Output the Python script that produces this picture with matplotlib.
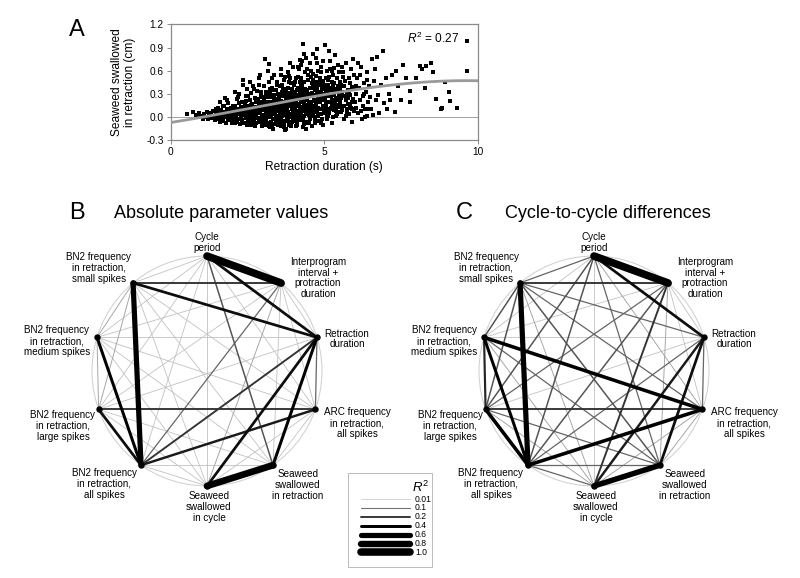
import numpy as np
import matplotlib
matplotlib.use("Agg")
import matplotlib.pyplot as plt
from matplotlib.patches import Circle, Rectangle

plt.rcParams['font.family'] = ['Liberation Sans', 'DejaVu Sans']
plt.rcParams['mathtext.fontset'] = 'custom'
plt.rcParams['mathtext.rm'] = 'Liberation Sans'
plt.rcParams['mathtext.it'] = 'Liberation Sans:italic'

# ---- panel A: retraction duration (s) vs seaweed swallowed in retraction (cm)
scatter_pts = """
0.52 0.04, 0.74 0.06, 0.81 0.03, 0.88 0.01, 0.93 0.05, 1.02 0.02, 1.06 -0.02, 1.1 0.04, 1.14 0.0, 1.18 0.06,
1.22 -0.03, 1.25 0.02, 1.3 0.05, 1.33 -0.01, 1.37 0.08, 1.4 0.01, 1.43 -0.04, 1.46 0.03, 1.48 0.1,
1.51 0.06, 1.53 -0.02, 1.55 0.12, 1.57 0.01, 1.59 -0.06, 1.61 0.04, 1.63 0.09, 1.65 -0.03, 1.67 0.02, 1.69 0.14,
1.71 -0.05, 1.72 0.07, 1.74 0.0, 1.76 0.25, 1.78 0.03, 1.8 -0.07, 1.82 0.1, 1.84 0.05, 1.86 -0.02, 1.88 0.18,
1.9 0.01, 1.92 0.08, 1.94 -0.04, 1.96 0.12, 1.98 0.03, 1.99 -0.08, 1.62 0.2, 1.75 0.15, 1.85 0.22, 1.58 0.09,
2.01 0.05, 2.03 -0.03, 2.05 0.1, 2.06 0.02, 2.08 -0.08, 2.1 0.15, 2.12 0.0, 2.13 0.07, 2.15 -0.05, 2.17 0.24,
2.18 0.04, 2.2 0.11, 2.21 -0.02, 2.23 0.3, 2.25 0.06, 2.26 -0.09, 2.28 0.13, 2.3 0.01, 2.31 0.19, 2.33 -0.04,
2.35 0.08, 2.36 0.42, 2.38 0.03, 2.4 -0.07, 2.41 0.16, 2.43 0.05, 2.45 0.27, 2.46 -0.01, 2.48 0.1, 2.49 0.36,
2.11 0.33, 2.22 0.18, 2.34 0.48, 2.44 0.21, 2.04 0.14, 2.16 -0.06, 2.27 0.09, 2.39 0.12, 2.47 -0.1, 2.19 0.26,
2.51 0.04, 2.52 -0.06, 2.54 0.14, 2.55 0.01, 2.57 0.22, 2.58 -0.02, 2.6 0.09, 2.61 0.31, 2.63 -0.1, 2.64 0.06,
2.66 0.17, 2.67 0.0, 2.69 0.4, 2.7 0.11, 2.72 -0.04, 2.73 0.25, 2.75 0.03, 2.76 0.13, 2.78 -0.08, 2.79 0.2,
2.81 0.07, 2.82 0.34, 2.84 -0.01, 2.85 0.1, 2.87 0.5, 2.88 0.15, 2.9 -0.06, 2.91 0.05, 2.93 0.28, 2.94 0.12,
2.96 -0.11, 2.97 0.19, 2.99 0.02, 2.53 0.27, 2.59 0.45, 2.65 -0.07, 2.71 0.36, 2.77 0.08, 2.83 0.23, 2.89 0.42,
2.95 0.32, 2.62 0.16, 2.68 0.03, 2.74 -0.12, 2.8 0.12, 2.86 -0.03, 2.92 0.55, 2.98 0.09, 2.56 0.07, 2.98 0.26,
3.01 0.1, 3.02 -0.05, 3.04 0.22, 3.05 0.03, 3.06 0.75, 3.08 0.14, 3.09 -0.1, 3.11 0.07, 3.12 0.33, 3.14 0.0,
3.15 0.18, 3.17 -0.07, 3.18 0.26, 3.2 0.05, 3.21 0.45, 3.23 0.12, 3.24 -0.13, 3.26 0.2, 3.27 0.02, 3.29 0.38,
3.3 0.09, 3.32 -0.03, 3.33 0.16, 3.35 0.55, 3.36 0.06, 3.38 0.29, 3.39 -0.09, 3.41 0.13, 3.42 0.01, 3.44 0.24,
3.45 0.42, 3.47 0.08, 3.48 -0.05, 3.49 0.17, 3.03 0.4, 3.07 -0.02, 3.1 0.28, 3.13 0.11, 3.16 0.6, 3.19 -0.11,
3.22 0.31, 3.25 0.08, 3.28 0.15, 3.31 0.5, 3.34 -0.15, 3.37 0.21, 3.4 0.04, 3.43 0.35, 3.46 0.23, 3.07 0.19,
3.19 0.13, 3.31 0.26, 3.43 -0.07, 3.28 -0.06, 3.15 0.04, 3.37 0.1, 3.24 0.36, 3.12 -0.08, 3.48 0.3, 3.2 0.69,
3.51 0.12, 3.52 -0.04, 3.53 0.25, 3.55 0.05, 3.56 0.4, 3.58 0.16, 3.59 -0.12, 3.61 0.09, 3.62 0.32, 3.63 0.01,
3.65 0.2, 3.66 -0.08, 3.68 0.48, 3.69 0.13, 3.71 0.03, 3.72 0.27, 3.74 -0.15, 3.75 0.1, 3.77 0.36, 3.78 0.18,
3.8 -0.02, 3.81 0.58, 3.83 0.07, 3.84 0.22, 3.86 -0.1, 3.87 0.14, 3.89 0.31, 3.9 0.04, 3.92 0.44, 3.93 0.19,
3.95 -0.06, 3.96 0.11, 3.98 0.28, 3.99 0.65, 3.54 0.3, 3.57 -0.07, 3.6 0.21, 3.64 0.42, 3.67 0.06, 3.7 0.15,
3.73 -0.17, 3.76 0.24, 3.79 0.09, 3.82 0.38, 3.85 0.02, 3.88 0.17, 3.91 -0.11, 3.94 0.33, 3.97 0.07, 3.53 0.0,
3.6 -0.03, 3.66 0.28, 3.73 0.52, 3.79 0.12, 3.86 0.25, 3.92 0.0, 3.98 0.2, 3.58 0.55, 3.7 0.34, 3.82 -0.05,
3.9 0.5, 3.63 0.14, 3.76 0.04, 3.88 0.7, 3.95 0.15, 3.56 0.08, 3.69 -0.1, 3.84 0.45, 3.97 -0.02,
4.01 0.14, 4.02 0.02, 4.04 0.3, 4.05 -0.05, 4.07 0.21, 4.08 0.5, 4.1 0.08, 4.11 0.35, 4.13 -0.1, 4.14 0.17,
4.16 0.04, 4.17 0.62, 4.19 0.26, 4.2 0.11, 4.22 -0.02, 4.23 0.4, 4.25 0.19, 4.26 0.06, 4.28 0.73, 4.29 0.29,
4.31 -0.13, 4.32 0.13, 4.34 0.45, 4.35 0.01, 4.37 0.23, 4.31 0.95, 4.4 0.09, 4.41 0.33, 4.43 -0.06, 4.44 0.16,
4.46 0.55, 4.47 0.27, 4.49 0.03, 4.03 0.42, 4.06 0.1, 4.09 -0.12, 4.12 0.24, 4.15 0.38, 4.18 -0.04, 4.21 0.31,
4.24 0.68, 4.27 0.12, 4.3 0.2, 4.33 -0.09, 4.36 0.36, 4.39 0.58, 4.42 0.07, 4.45 0.22, 4.48 0.48, 4.05 0.25,
4.11 -0.01, 4.17 0.15, 4.23 0.05, 4.29 0.41, 4.35 0.28, 4.41 0.12, 4.47 -0.08, 4.08 0.18, 4.2 0.46, 4.32 0.25,
4.44 0.35, 4.14 0.52, 4.26 0.34, 4.38 0.15, 4.02 0.07, 4.22 0.74, 4.4 -0.15, 4.13 0.29, 4.36 0.08,
4.51 0.2, 4.52 0.05, 4.54 0.38, 4.55 -0.03, 4.57 0.27, 4.58 0.6, 4.6 0.13, 4.61 0.44, 4.63 0.02, 4.64 0.82,
4.66 0.22, 4.67 0.09, 4.69 0.35, 4.7 -0.08, 4.72 0.53, 4.73 0.17, 4.75 0.3, 4.76 0.06, 4.78 0.7, 4.79 0.24,
4.81 0.12, 4.82 0.41, 4.84 -0.05, 5.04 0.93, 4.87 0.19, 4.88 0.33, 4.9 0.04, 4.91 0.58, 4.93 0.26, 4.94 0.1,
4.96 0.47, 4.97 -0.1, 4.99 0.36, 4.53 0.15, 4.59 0.31, 4.65 0.48, 4.71 0.0, 4.77 0.4, 4.83 0.21, 4.89 0.65,
4.95 0.15, 4.56 0.08, 4.62 0.28, 4.68 0.14, 4.74 0.45, 4.8 0.03, 4.86 0.29, 4.92 0.38, 4.98 0.22, 4.57 0.52,
4.69 0.21, 4.81 0.6, 4.93 -0.03, 4.63 0.37, 4.75 0.11, 4.87 0.5, 4.99 0.08, 4.6 -0.12, 4.72 0.76, 4.84 0.27,
5.01 0.25, 5.03 0.08, 5.04 0.42, 5.06 0.15, 5.08 0.6, 5.09 -0.02, 5.11 0.33, 5.13 0.2, 5.14 0.48, 5.16 0.05,
5.18 0.28, 5.19 0.72, 5.21 0.12, 5.23 0.38, 5.24 -0.08, 5.26 0.22, 5.28 0.55, 5.29 0.31, 5.31 0.09, 5.33 0.44,
5.34 0.18, 5.36 0.8, 5.38 0.02, 5.39 0.35, 5.41 0.25, 5.43 0.5, 5.44 0.13, 5.46 0.4, 5.48 0.07, 5.49 0.29,
5.02 0.36, 5.07 0.31, 5.12 0.02, 5.17 0.52, 5.22 0.27, 5.27 0.14, 5.32 0.64, 5.37 0.23, 5.42 0.04, 5.47 0.58,
5.05 0.19, 5.15 0.38, 5.25 0.46, 5.35 0.11, 5.45 0.32, 5.1 0.1, 5.2 0.62, 5.3 0.4, 5.4 0.16, 5.5 0.45,
5.52 0.2, 5.54 0.41, 5.56 0.06, 5.58 0.33, 5.6 0.58, 5.62 0.14, 5.64 0.27, 5.66 -0.03, 5.68 0.47, 5.7 0.22,
5.72 0.7, 5.74 0.1, 5.76 0.35, 5.78 0.17, 5.8 0.5, 5.82 0.04, 5.84 0.29, 5.86 0.62, 5.88 0.12, 5.9 0.39,
5.92 -0.06, 5.94 0.24, 5.96 0.54, 5.98 0.08, 5.53 0.3, 5.59 0.09, 5.65 0.4, 5.71 0.01, 5.77 0.25, 5.83 0.44,
5.89 0.2, 5.95 0.75, 5.61 0.52, 5.73 0.3, 5.85 0.16, 5.97 0.36,
6.02 0.3, 6.05 0.12, 6.08 0.5, 6.11 0.05, 6.14 0.38, 6.17 0.22, 6.2 0.65, 6.23 -0.02, 6.26 0.27, 6.29 0.44,
6.32 0.1, 6.35 0.33, 6.38 0.58, 6.41 0.02, 6.44 0.2, 6.47 0.4, 6.1 0.7, 6.25 0.15, 6.4 0.48, 6.15 0.55,
6.33 0.0, 6.48 0.26, 6.52 0.1, 6.56 0.75, 6.6 0.03, 6.64 0.62, 6.68 0.22, 6.73 0.78, 6.76 0.28, 6.8 0.05,
6.85 0.42, 6.9 0.85, 6.95 0.18, 7.0 0.5, 7.05 0.1, 7.1 0.3, 7.2 0.55, 7.3 0.07, 7.4 0.4, 6.62 0.47,
7.15 0.22, 7.35 0.6, 7.51 0.22, 7.57 0.68, 7.65 0.5, 7.78 0.2, 7.8 0.34, 8.0 0.5, 8.11 0.66, 8.2 0.62,
8.29 0.37, 8.33 0.66, 8.49 0.7, 8.55 0.58, 8.65 0.23, 8.8 0.1, 8.85 0.12, 8.92 0.46, 9.09 0.21, 9.05 0.33,
9.34 0.12, 9.66 0.98, 9.66 0.59,
3.02 0.15, 3.05 0.25, 3.09 0.05, 3.13 0.2, 3.17 0.1, 3.21 0.0, 3.25 0.27, 3.29 0.12, 3.33 0.05, 3.36 0.35,
3.4 0.19, 3.44 0.08, 3.47 -0.02, 3.5 0.22, 3.54 0.15, 3.57 0.02, 3.61 0.27, 3.64 0.07, 3.68 0.2, 3.71 -0.05,
3.74 0.31, 3.78 0.06, 3.81 0.16, 3.85 0.3, 3.88 0.0, 3.92 0.24, 3.95 0.36, 3.99 0.1, 4.02 0.22, 4.06 0.33,
4.09 0.02, 4.13 0.15, 4.16 0.27, 4.2 0.0, 4.23 0.22, 4.27 0.38, 4.3 0.08, 4.34 0.18, 4.37 0.32, 4.41 0.04,
4.44 0.26, 4.48 0.14, 4.51 0.3, 4.55 0.1, 4.58 0.2, 4.62 0.4, 4.65 0.05, 4.69 0.28, 4.72 0.14, 4.76 0.35,
4.79 0.02, 4.83 0.33, 4.86 0.1, 4.9 0.24, 4.93 0.42, 4.97 0.13, 5.0 0.3, 5.04 0.05, 5.07 0.2, 5.11 0.42,
5.14 0.27, 5.18 0.1, 5.22 0.35, 5.25 0.18, 5.29 0.0, 5.33 0.28, 5.36 0.36, 5.4 0.08, 5.44 0.22, 5.48 0.15,
5.52 0.38, 5.55 0.25, 2.85 0.05, 2.9 0.18, 2.95 -0.02, 2.82 0.12, 2.78 0.02, 3.0 -0.08, 3.1 -0.04, 3.3 -0.1,
3.5 -0.1, 3.7 -0.13, 3.9 -0.08, 4.1 -0.07, 4.3 -0.04, 4.5 -0.06, 4.7 -0.03, 4.9 -0.07, 5.1 0.0, 3.15 0.3,
3.45 0.45, 3.65 0.36, 3.85 0.53, 4.05 0.46, 4.25 0.5, 4.45 0.62, 4.65 0.56, 4.85 0.46, 5.05 0.5, 5.25 0.6,
5.45 0.68, 4.15 0.65, 4.55 0.7, 4.95 0.72, 4.35 0.82, 4.75 0.88, 5.15 0.85, 3.6 0.62, 4.4 0.76, 5.58 0.65,
5.65 0.15, 5.75 0.05, 5.8 0.3, 5.9 0.1, 6.0 0.2, 6.05 0.4, 6.2 0.08, 6.3 0.3, 6.45 0.1
"""
pts = np.array([p.split() for p in scatter_pts.replace("\n", " ").split(",") if p.strip()], float)
retraction_dur = pts[:, 0]
swallowed_retr = pts[:, 1]
trend_coef = [-0.000533, 0.0044, 0.0633, -0.07]   # cubic trendline
r2_a = 0.27

# ---- panels B and C: R^2 between cycle parameters
node_labels = [
    "Cycle\nperiod",
    "Interprogram\ninterval +\nprotraction\nduration",
    "Retraction\nduration",
    "ARC frequency\nin retraction,\nall spikes",
    "Seaweed\nswallowed\nin retraction",
    "Seaweed\nswallowed\nin cycle",
    "BN2 frequency\nin retraction,\nall spikes",
    "BN2 frequency\nin retraction,\nlarge spikes",
    "BN2 frequency\nin retraction,\nmedium spikes",
    "BN2 frequency\nin retraction,\nsmall spikes",
]
# upper triangle, row i holds pairs (i, i+1 ... 9)
r2_absolute = [
    [1.00, 0.35, 0.02, 0.15, 0.02, 0.02, 0.02, 0.02, 0.02],
    [0.02, 0.02, 0.02, 0.05, 0.12, 0.02, 0.02, 0.20],
    [0.12, 0.40, 0.35, 0.20, 0.02, 0.02, 0.35],
    [0.02, 0.02, 0.30, 0.20, 0.02, 0.02],
    [0.85, 0.02, 0.02, 0.02, 0.02],
    [0.02, 0.02, 0.02, 0.02],
    [0.35, 0.40, 0.60],
    [0.05, 0.05],
    [0.05],
]
r2_differences = [
    [1.00, 0.35, 0.05, 0.12, 0.02, 0.15, 0.15, 0.02, 0.12],
    [0.02, 0.02, 0.05, 0.20, 0.15, 0.12, 0.02, 0.20],
    [0.12, 0.35, 0.30, 0.12, 0.02, 0.02, 0.12],
    [0.05, 0.05, 0.45, 0.20, 0.45, 0.12],
    [0.65, 0.12, 0.12, 0.12, 0.15],
    [0.12, 0.05, 0.05, 0.05],
    [0.45, 0.40, 0.60],
    [0.25, 0.15],
    [0.15],
]
legend_r2 = [0.01, 0.1, 0.2, 0.4, 0.6, 0.8, 1.0]

# styling of R^2 -> line width (px) and grey level
w_px = [0.8, 1.1, 1.9, 3.0, 5.2, 6.4, 7.6]
grey = [0.80, 0.45, 0.2, 0.0, 0.0, 0.0, 0.0]
node_ang = np.radians([90, 50, 17, -19.5, -55, -90, -125, -160.5, 163, 130])
label_off = [(0, -118, 'bottom'), (111, -93, 'center'), (140, -32, 'center'), (150, 52, 'center'),
             (91, 114, 'center'), (2, 136, 'center'), (-103, 113, 'center'), (-144, 55, 'center'),
             (-150, -30, 'center'), (-108, -103, 'center')]
PX = 0.72  # points per pixel at dpi 100


def edge_style(r2):
    return np.interp(r2, legend_r2, w_px) * PX, str(np.interp(r2, legend_r2, grey))


fig = plt.figure(figsize=(8, 5.78), dpi=100)
net = fig.add_axes([0, 0, 1, 1])
net.set_xlim(0, 800)
net.set_ylim(578, 0)
net.axis('off')


def draw_network(cx, cy, r2_rows, letter, title):
    R = 115
    xs = cx + R * np.cos(node_ang)
    ys = cy - R * np.sin(node_ang)
    net.add_patch(Circle((cx, cy), R, fill=False, ec='#cfcfcf', lw=1.0 * PX, zorder=1))
    edges = []
    for i, row in enumerate(r2_rows):
        for k, v in enumerate(row):
            edges.append((v, i, i + 1 + k))
    for v, i, j in sorted(edges):
        lw, col = edge_style(v)
        net.plot([xs[i], xs[j]], [ys[i], ys[j]], color=col, lw=lw,
                 solid_capstyle='round', zorder=2 + v)
    net.plot(xs, ys, 'o', color='black', ms=4.6, mew=0, zorder=5)
    for n, (dx, dy, va) in enumerate(label_off):
        net.text(cx + dx, cy + dy, node_labels[n], ha='center', va=va, fontsize=7.1,
                 linespacing=1.1, multialignment='center')
    net.text(cx - 130, 213, letter, fontsize=17, ha='center', va='center')
    net.text(cx + 14, 213, title, fontsize=13, ha='center', va='center')


draw_network(207, 371, r2_absolute, 'B', 'Absolute parameter values')
draw_network(594, 371, r2_differences, 'C', 'Cycle-to-cycle differences')

# legend box
net.add_patch(Rectangle((348, 473), 84, 94, fill=False, ec='#bdbdbd', lw=1.0 * PX, zorder=1))
net.text(421, 487, '$R^2$', fontsize=9.5, ha='center', va='center')
for k, v in enumerate(legend_r2):
    yy = 499 + k * 8.9
    lw, col = edge_style(v)
    net.plot([361, 410], [yy, yy], color=col, lw=lw, solid_capstyle='round')
    net.text(415, yy, ('%.2f' % v) if v < 0.1 else ('%.1f' % v), fontsize=6.2,
             ha='left', va='center')

# ---- panel A
ax = fig.add_axes([170.7 / 800, 1 - 140.3 / 578, 307 / 800, 116 / 578])
ax.plot(retraction_dur, swallowed_retr, 's', color='black', ms=2.5, mew=0, zorder=2)
xf = np.linspace(0, 10, 200)
ax.plot(xf, np.polyval(trend_coef, xf), color='#9a9a9a', lw=2.0, zorder=3)
ax.axhline(0, color='#a0a0a0', lw=0.7, zorder=1)
ax.set_xlim(0, 10)
ax.set_ylim(-0.3, 1.2)
ax.set_xticks([0, 5, 10])
ax.set_yticks([-0.3, 0, 0.3, 0.6, 0.9, 1.2])
ax.set_yticklabels(['%.1f' % t for t in [-0.3, 0, 0.3, 0.6, 0.9, 1.2]])
ax.tick_params(labelsize=7.3, length=3, width=0.7, color='#888888', pad=2)
for s in ax.spines.values():
    s.set_color('#8a8a8a')
    s.set_linewidth(0.9)
ax.set_xlabel('Retraction duration (s)', fontsize=8.6, labelpad=3)
ax.text(0.94, 0.88, '$R^2$ = %.2f' % r2_a, transform=ax.transAxes, fontsize=8.6,
        ha='right', va='center')
fig.text(123.5 / 800, 1 - 82 / 578, 'Seaweed swallowed\nin retraction (cm)', rotation=90,
         fontsize=8.6, ha='center', va='center', linespacing=1.15, multialignment='center')
fig.text(77 / 800, 1 - 30 / 578, 'A', fontsize=17, ha='center', va='center')

fig.savefig('out.png', dpi=100)
